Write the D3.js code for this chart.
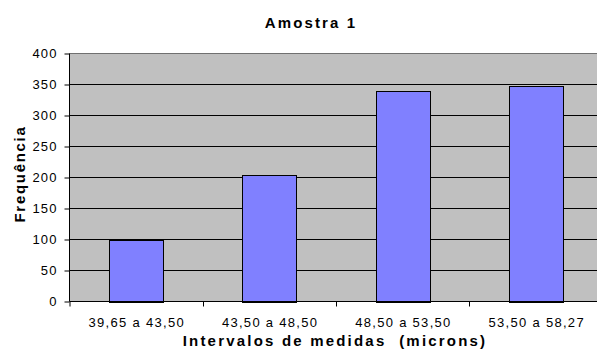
<!DOCTYPE html>
<html>
<head>
<meta charset="utf-8">
<script src="https://cdn.jsdelivr.net/npm/d3@7"></script>
<style>
  html, body { margin: 0; padding: 0; background: #ffffff; }
  svg { display: block; font-family: "Liberation Sans", Arial, sans-serif; }
</style>
</head>
<body>
<svg id="chart" width="597" height="349"></svg>
<script>
// Frequency of measurements per interval (microns)
const categories = ["39,65 a 43,50", "43,50 a 48,50", "48,50 a 53,50", "53,50 a 58,27"];
const frequencies = [100, 204, 339, 348];
const yTicks = [0, 50, 100, 150, 200, 250, 300, 350, 400];

const titleText = "Amostra 1";
const xTitleText = "Intervalos de medidas  (microns)";
const yTitleText = "Frequência";

const svg = d3.select("#chart");

const plot = { left: 69.5, right: 602.8, top: 53.5, bottom: 301.5 };

const x = d3.scaleBand()
  .domain(categories)
  .range([plot.left, plot.right])
  .paddingInner(0.595)
  .paddingOuter(0.2975);

const y = d3.scaleLinear()
  .domain([0, 400])
  .range([plot.bottom, plot.top]);

// Plot area background
svg.append("rect")
  .attr("x", plot.left)
  .attr("y", plot.top)
  .attr("width", plot.right - plot.left)
  .attr("height", plot.bottom - plot.top)
  .attr("fill", "#c0c0c0");

// Horizontal gridlines
svg.append("g")
  .selectAll("line")
  .data(yTicks.filter(d => d > 0))
  .join("line")
  .attr("x1", plot.left)
  .attr("x2", plot.right)
  .attr("y1", d => y(d))
  .attr("y2", d => y(d))
  .attr("stroke", d => d === 400 ? "#707070" : "#000000")
  .attr("stroke-width", 1);

// Bars
svg.append("g")
  .selectAll("rect")
  .data(frequencies)
  .join("rect")
  .attr("x", (d, i) => Math.round(x(categories[i])) + 0.5)
  .attr("y", d => Math.round(y(d)) + 0.5)
  .attr("width", Math.round(x.bandwidth()))
  .attr("height", d => Math.round(y(0)) - Math.round(y(d)))
  .attr("fill", "#8080ff")
  .attr("stroke", "#000000")
  .attr("stroke-width", 1);

// Y axis
const yAxis = d3.axisLeft(y)
  .tickValues(yTicks)
  .tickSize(5)
  .tickPadding(7)
  .tickFormat(d3.format("d"));

const gy = svg.append("g")
  .attr("transform", `translate(${plot.left},0)`)
  .call(yAxis);
gy.select(".domain").attr("stroke", "#000").attr("d", `M0,${plot.top}V${plot.bottom}`);
gy.selectAll(".tick line").attr("stroke", "#000");
gy.selectAll(".tick text")
  .attr("font-size", 13)
  .attr("fill", "#000")
  .attr("letter-spacing", "1.1px")
  .attr("font-family", "Liberation Sans, Arial, sans-serif");

// X axis: ticks at category boundaries
const gx = svg.append("g")
  .attr("transform", `translate(0,${plot.bottom})`);
gx.append("line")
  .attr("x1", plot.left).attr("x2", plot.right)
  .attr("y1", 0).attr("y2", 0)
  .attr("stroke", "#000");
const step = x.step();
gx.selectAll("line.tick")
  .data(d3.range(categories.length + 1))
  .join("line")
  .attr("class", "tick")
  .attr("x1", i => Math.round(plot.left + i * step) + 0.5 - (i === 0 ? 0.5 : 0))
  .attr("x2", i => Math.round(plot.left + i * step) + 0.5 - (i === 0 ? 0.5 : 0))
  .attr("y1", 0).attr("y2", 5)
  .attr("stroke", "#000");
gx.selectAll("text")
  .data(categories)
  .join("text")
  .attr("x", d => x(d) + x.bandwidth() / 2 + 0.6)
  .attr("y", 25.3)
  .attr("text-anchor", "middle")
  .attr("font-size", 13)
  .attr("letter-spacing", "1.3px")
  .attr("fill", "#000")
  .text(d => d);

// Chart title
svg.append("text")
  .attr("x", 311)
  .attr("y", 28.3)
  .attr("text-anchor", "middle")
  .attr("font-size", 15)
  .attr("font-weight", "bold")
  .attr("letter-spacing", "2.1px")
  .text(titleText);

// X axis title
svg.append("text")
  .attr("x", 335)
  .attr("y", 345.5)
  .attr("text-anchor", "middle")
  .attr("font-size", 15)
  .attr("font-weight", "bold")
  .attr("letter-spacing", "2.2px")
  .style("white-space", "pre")
  .text(xTitleText);

// Y axis title
svg.append("text")
  .attr("transform", "translate(25,174) rotate(-90)")
  .attr("text-anchor", "middle")
  .attr("font-size", 15)
  .attr("font-weight", "bold")
  .attr("letter-spacing", "1.7px")
  .text(yTitleText);
</script>
</body>
</html>
